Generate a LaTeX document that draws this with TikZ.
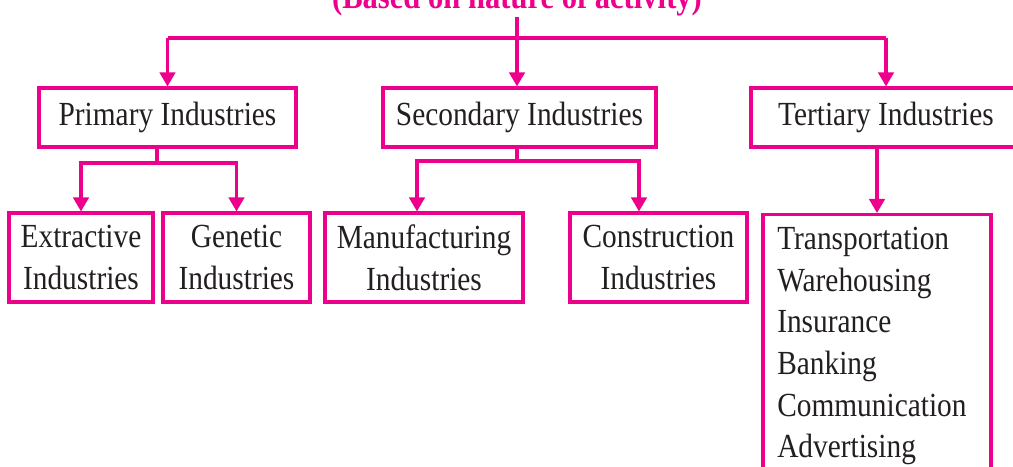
\documentclass[tikz,border=0pt]{standalone}
\usepackage{fontspec}
\setmainfont{Liberation Serif}[FakeStretch=0.87]
\usetikzlibrary{arrows.meta}
\definecolor{pinkline}{HTML}{EC008C}
\definecolor{inktext}{HTML}{231F20}

\begin{document}
\begin{tikzpicture}[x=0.025cm,y=-0.025cm,
  box/.style={draw=pinkline,line width=2.2pt,inner sep=0pt,text=inktext,
    align=center,font=\fontsize{24}{30}\selectfont},
  link/.style={draw=pinkline,line width=2.2pt},
  arr/.style={link,-{Triangle[width=11pt,length=10pt]}}]
\useasboundingbox (0,0) rectangle (1013,467);

\node[anchor=base,inner sep=0pt,text=pinkline,font=\bfseries\fontsize{25}{30}\selectfont]
  (title) at (517,9) {(Based on nature of activity)};

% first level
\node[box,minimum width=6.425cm,minimum height=1.475cm] (pri) at (167.5,117.5) {Primary Industries};
\node[box,minimum width=6.825cm,minimum height=1.475cm] (sec) at (519.5,117.5) {Secondary Industries};
\node[box,minimum width=6.75cm,minimum height=1.475cm] (ter) at (886,117.5) {Tertiary Industries};

% second level
\node[box,minimum width=3.6cm,minimum height=2.225cm] (extr) at (81,257.5) {Extractive\\Industries};
\node[box,minimum width=3.675cm,minimum height=2.225cm] (gen) at (236.5,257.5) {Genetic\\Industries};
\node[box,minimum width=4.95cm,minimum height=2.225cm] (manu) at (424,257.5) {Manufacturing\\Industries};
\node[box,minimum width=4.425cm,minimum height=2.225cm] (cons) at (658.5,257.5) {Construction\\Industries};
\node[box,anchor=north,minimum width=5.7cm,minimum height=6.925cm] (serv) at (877,213) {};
\node[anchor=north west,inner sep=0pt,align=left,text=inktext,font=\fontsize{24}{29.6}\selectfont]
  (servlist) at (777,227)
  {Transportation\\Warehousing\\Insurance\\Banking\\Communication\\Advertising};

% connectors
\coordinate (hub) at (517,38);
\draw[arr] (title.south -| hub) -- (sec.north -| hub);
\draw[link] (hub -| pri.north) -- (hub -| ter.north);
\draw[arr] (hub -| pri.north) -- (pri.north);
\draw[arr] (hub -| ter.north) -- (ter.north);

\coordinate (pj) at (157,163);
\draw[link] (pri.south -| pj) -- (pj);
\draw[arr] (pj) -| (extr.north);
\draw[arr] (pj) -| (gen.north);

\coordinate (sj) at (517,161);
\draw[link] (sec.south -| sj) -- (sj);
\draw[arr] (sj) -| ([xshift=-0.175cm]manu.north);
\draw[arr] (sj) -| ([xshift=-0.4875cm]cons.north);

\draw[arr] (ter.south -| serv.north) -- (serv.north);
\end{tikzpicture}
\end{document}
